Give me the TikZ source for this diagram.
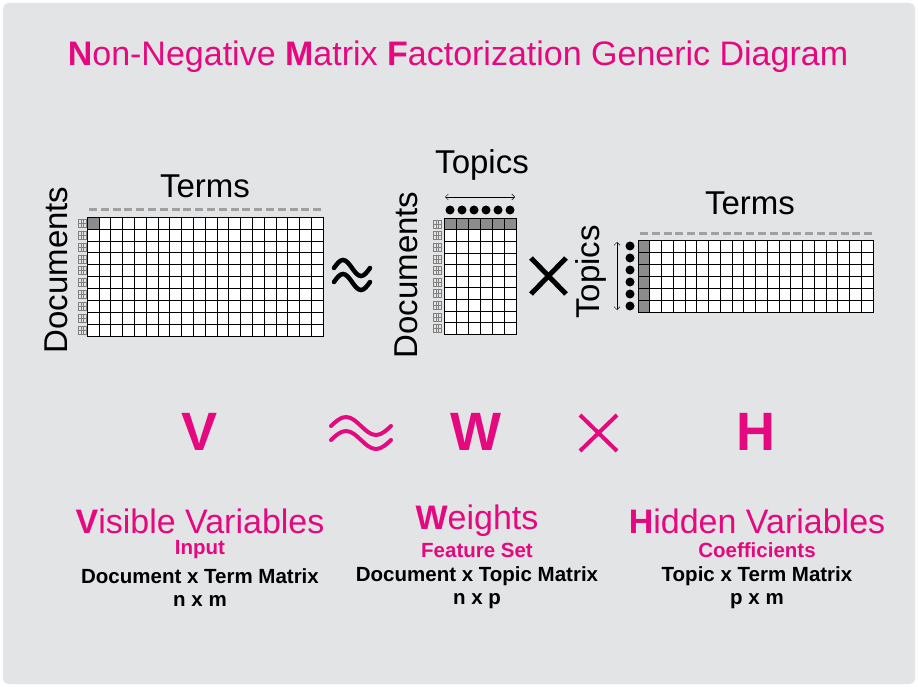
\documentclass[tikz,border=0pt]{standalone}
\usepackage{fontspec}
\setmainfont{Liberation Sans}
\usepackage{xcolor}
\usetikzlibrary{arrows.meta, positioning}
\definecolor{nmfpink}{HTML}{E5097F}
\definecolor{panel}{HTML}{E3E4E6}
\definecolor{cellgray}{HTML}{8C8C8C}
\definecolor{dashgray}{HTML}{A0A0A0}

\begin{document}
\begin{tikzpicture}[x=1pt, y=-1pt,
    axis/.style={font=\fontsize{33}{36}\selectfont, inner sep=0pt},
    big/.style={font=\fontsize{54}{58}\selectfont\bfseries, text=nmfpink, inner sep=0pt},
    head/.style={font=\fontsize{34}{38}\selectfont, text=nmfpink, inner sep=0pt},
    sub/.style={font=\fontsize{20.5}{24}\selectfont\bfseries, inner sep=0pt},
    gridline/.style={draw=black, line width=0.6pt},
    dashrow/.style={dashgray, line width=3pt, dash pattern=on 8pt off 3.8pt},
    dot/.style={fill=black, circle, inner sep=0pt, minimum size=9pt},
    symb/.style={line width=5pt, line cap=round}
]
    % Panel
    \useasboundingbox (0,0) rectangle (918,687);
    \fill[white] (0,0) rectangle (918,687);
    \fill[panel, rounded corners=6pt] (3,3) rectangle (915,684);

    % Title
    \node[font=\fontsize{34}{38}\selectfont, text=nmfpink] (title) at (458,57)
        {\textbf{N}on-Negative \textbf{M}atrix \textbf{F}actorization Generic Diagram};

    % V matrix
    \fill[white] (87,217) rectangle (323,336);
    \fill[cellgray] (87,217) rectangle (98.8,228.9);
    \foreach \c in {1,...,19} \draw[gridline] (87+11.8*\c,217) -- (87+11.8*\c,336);
    \foreach \r in {1,...,9} \draw[gridline] (87,217+11.9*\r) -- (323,217+11.9*\r);
    \draw[gridline] (87,217) rectangle (323,336);
    \draw[dashrow] (89,210) -- (323,210);
    \foreach \r in {0,...,9}
        \draw[gray, line width=0.4pt, shift={(78,219+11.9*\r)}] (0,0) rectangle (8,8) (0,4) -- (8,4) (2.7,0) -- (2.7,8) (5.3,0) -- (5.3,8);
    \node[axis] (vterms) at (205,186) {Terms};
    \node[axis, rotate=90] (vdocs) at (56,270) {Documents};

    % approx, black
    \foreach \dy in {-7,7}
        \draw[symb, line width=4.5pt] (334,275+\dy) sin (343,267+\dy) cos (352,275+\dy) sin (361,283+\dy) cos (370,275+\dy);

    % W matrix
    \fill[white] (444,218) rectangle (516,334);
    \fill[cellgray] (444,218) rectangle (516,229.6);
    \foreach \c in {1,...,5} \draw[gridline] (444+12*\c,218) -- (444+12*\c,334);
    \foreach \r in {1,...,9} \draw[gridline] (444,218+11.6*\r) -- (516,218+11.6*\r);
    \draw[gridline] (444,218) rectangle (516,334);
    \foreach \c in {0,...,5}
        \node[dot] (wd\c) at (450+12*\c,210) {};
    \draw[{Straight Barb[length=3pt]}-{Straight Barb[length=3pt]}, line width=0.5pt] (445,197) -- (515,197);
    \foreach \r in {0,...,9}
        \draw[gray, line width=0.4pt, shift={(433,220+11.6*\r)}] (0,0) rectangle (8,8) (0,4) -- (8,4) (2.7,0) -- (2.7,8) (5.3,0) -- (5.3,8);
    \node[axis] (wtopics) at (482,165) {Topics};
    \node[axis, rotate=90] (wdocs) at (406,275) {Documents};

    % times, black
    \draw[symb, line cap=butt] (531,258) -- (566,294) (531,294) -- (566,258);

    % H matrix
    \fill[white] (638,240) rectangle (873,312);
    \fill[cellgray] (638,240) rectangle (649.75,312);
    \foreach \c in {1,...,19} \draw[gridline] (638+11.75*\c,240) -- (638+11.75*\c,312);
    \foreach \r in {1,...,5} \draw[gridline] (638,240+12*\r) -- (873,240+12*\r);
    \draw[gridline] (638,240) rectangle (873,312);
    \draw[dashrow] (640,233) -- (873,233);
    \foreach \r in {0,...,5}
        \node[dot] (hd\r) at (630,246+12*\r) {};
    \draw[{Straight Barb[length=3pt]}-{Straight Barb[length=3pt]}, line width=0.5pt] (617,242) -- (617,310);
    \node[axis] (hterms) at (750,203) {Terms};
    \node[axis, rotate=90] (htopics) at (591,272) {Topics};

    % Symbols
    \node[big] (V) at (200,432) {V};
    \foreach \dy in {-7,7}
        \draw[symb, nmfpink, line width=4pt] (331,433+\dy) sin (346,424+\dy) cos (361,433+\dy) sin (376,442+\dy) cos (391,433+\dy);
    \node[big] (W) at (476,432) {W};
    \draw[symb, nmfpink, line width=4pt, line cap=butt] (580,415) -- (617,451) (580,451) -- (617,415);
    \node[big] (H) at (756,432) {H};

    % Captions
    \node[head] (vcap) at (200,521) {\textbf{V}isible Variables};
    \node[sub, text=nmfpink] (vrole) at (200,550) {Input};
    \node[sub] (vtype) at (200,576) {Document x Term Matrix};
    \node[sub] (vdim) at (200,601) {n x m};

    \node[head] (wcap) at (477,521) {\textbf{W}eights};
    \node[sub, text=nmfpink] (wrole) at (477,550) {Feature Set};
    \node[sub] (wtype) at (477,576) {Document x Topic Matrix};
    \node[sub] (wdim) at (477,601) {n x p};

    \node[head] (hcap) at (757,521) {\textbf{H}idden Variables};
    \node[sub, text=nmfpink] (hrole) at (757,550) {Coefficients};
    \node[sub] (htype) at (757,576) {Topic x Term Matrix};
    \node[sub] (hdim) at (757,601) {p x m};
\end{tikzpicture}
\end{document}
